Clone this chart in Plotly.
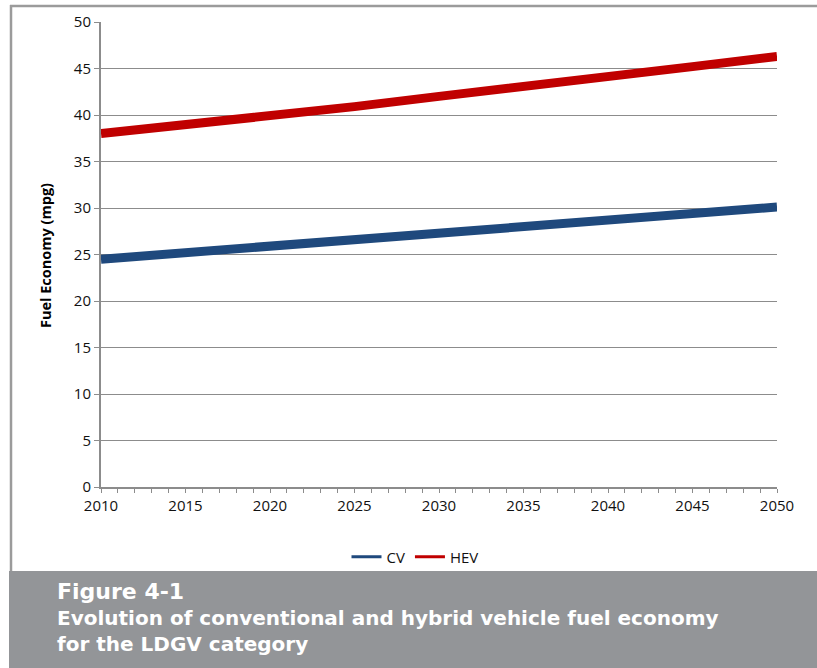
import plotly.graph_objects as go

years = [2010, 2015, 2020, 2025, 2030, 2035, 2040, 2045, 2050]
cv = [24.5, 25.2, 25.9, 26.6, 27.3, 28.0, 28.7, 29.4, 30.1]
hev = [38.0, 38.9, 39.9, 40.9, 42.0, 43.0, 44.1, 45.2, 46.3]
series_names = ["CV", "HEV"]
series_colors = ["#1F497D", "#C00000"]
caption_lines = ["Figure 4-1",
                 "Evolution of conventional and hybrid vehicle fuel economy",
                 "for the LDGV category"]

W, H = 817, 668
L, R, T, B = 101, 777, 22, 487
pw, ph = R - L, B - T

def px(x):
    return (x - L) / pw

def py(y):
    return (B - y) / ph

fig = go.Figure()
for name, vals, col in zip(series_names, [cv, hev], series_colors):
    fig.add_trace(go.Scatter(x=years, y=vals, mode="lines", name=name,
                             line=dict(color=col, width=9), showlegend=False,
                             legendgroup=name, hoverinfo="skip"))
for name, col in zip(series_names, series_colors):
    fig.add_trace(go.Scatter(x=[None], y=[None], mode="lines", name=name,
                             line=dict(color=col, width=3), legendgroup=name))

grid = "#8c8c8c"
fig.update_layout(
    width=W, height=H,
    margin=dict(l=L, r=W - R, t=T, b=H - B, autoexpand=False),
    paper_bgcolor="white", plot_bgcolor="white",
    font=dict(family="Open Sans", size=15, color="#111111"),
    showlegend=True,
    legend=dict(orientation="h", x=px(415), y=py(557), xanchor="center", yanchor="middle",
                font=dict(family="Open Sans", size=15, color="#111111"),
                itemwidth=30, tracegroupgap=0, bgcolor="rgba(0,0,0,0)"),
    xaxis=dict(range=[2010, 2050], tickmode="linear", tick0=2010, dtick=5,
               ticks="outside", ticklen=4, tickcolor=grid, tickwidth=1,
               showline=True, linecolor=grid, linewidth=2,
               showgrid=False, zeroline=False,
               minor=dict(dtick=1, ticks="outside", ticklen=4, tickcolor=grid, tickwidth=1, showgrid=False),
               tickfont=dict(size=15), fixedrange=True),
    yaxis=dict(range=[0, 50], tickmode="linear", tick0=0, dtick=5,
               ticks="outside", ticklen=5, tickcolor=grid, tickwidth=1,
               showline=True, linecolor=grid, linewidth=2,
               showgrid=True, gridcolor=grid, gridwidth=1.2, zeroline=False,
               tickfont=dict(size=15), fixedrange=True),
)

shapes = [
    dict(type="line", xref="paper", yref="paper", x0=px(10), x1=px(820), y0=py(6), y1=py(6),
         line=dict(color="#9b9b9b", width=2.5), layer="above"),
    dict(type="line", xref="paper", yref="paper", x0=px(11), x1=px(11), y0=py(5), y1=py(571),
         line=dict(color="#9b9b9b", width=2.5), layer="above"),
    dict(type="rect", xref="paper", yref="paper", x0=px(9), x1=px(820), y0=py(571), y1=py(670),
         fillcolor="#939598", line=dict(width=0), layer="above"),
]
fig.update_layout(shapes=shapes)

caption = ("<b><span style='font-size:22px'>%s</span></b><br><b>%s</b><br><b>%s</b>"
           % tuple(caption_lines))
annotations = [
    dict(text="<b>Fuel Economy (mpg)</b>", xref="paper", yref="paper", x=px(45), y=py(255),
         xanchor="center", yanchor="middle", textangle=-90, showarrow=False,
         font=dict(family="Open Sans", size=14.5, color="#000000")),
    dict(text=caption, xref="paper", yref="paper", x=px(55), y=py(617),
         xanchor="left", yanchor="middle", align="left", showarrow=False,
         font=dict(family="DejaVu Sans", color="white", size=20)),
]
fig.update_layout(annotations=annotations)

fig.write_html("out.html", config={"displayModeBar": False},
               post_script="document.body.style.margin='0';document.body.style.overflow='hidden';")
